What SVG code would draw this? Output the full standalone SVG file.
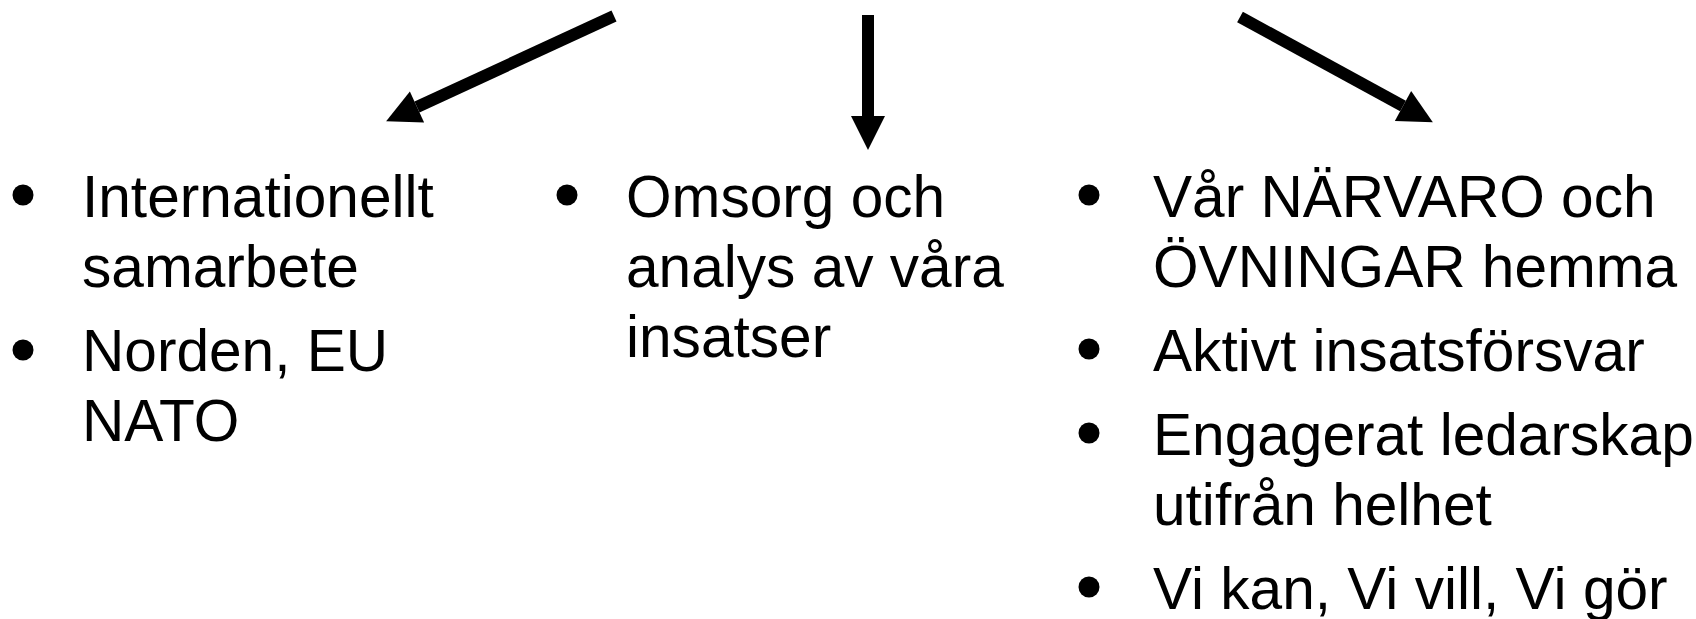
<svg xmlns="http://www.w3.org/2000/svg" width="1696" height="619" viewBox="0 0 1696 619">
<style>
.t{font-family:"Liberation Sans",Arial,sans-serif;font-size:58.6px;fill:#000}
.c{stroke:#000;stroke-width:12;fill:none}
</style>
<defs>
<marker id="ah" markerUnits="userSpaceOnUse" markerWidth="36" markerHeight="36" refX="0" refY="17" orient="auto" overflow="visible">
<path d="M0,0 L34,17 L0,34 z" fill="#000"/>
</marker>
</defs>
<rect width="1696" height="619" fill="#fff"/>
<g id="connectors">
<line class="c" x1="614" y1="16" x2="417" y2="107" marker-end="url(#ah)"/>
<line class="c" x1="868" y1="15" x2="868" y2="116" marker-end="url(#ah)"/>
<line class="c" x1="1240" y1="17" x2="1403" y2="106" marker-end="url(#ah)"/>
</g>
<g id="left">
<circle cx="23" cy="195" r="10.5"/>
<circle cx="23" cy="350" r="10.5"/>
<text class="t" x="82" y="217">Internationellt</text>
<text class="t" x="82" y="287">samarbete</text>
<text class="t" x="82" y="371">Norden, EU</text>
<text class="t" x="82" y="441">NATO</text>
</g>
<g id="middle">
<circle cx="567" cy="195" r="10.5"/>
<text class="t" x="626" y="217">Omsorg och</text>
<text class="t" x="626" y="287">analys av våra</text>
<text class="t" x="626" y="357">insatser</text>
</g>
<g id="right">
<circle cx="1089" cy="195" r="10.5"/>
<circle cx="1089" cy="349" r="10.5"/>
<circle cx="1089" cy="433" r="10.5"/>
<circle cx="1089" cy="587" r="10.5"/>
<text class="t" x="1153" y="217">Vår NÄRVARO och</text>
<text class="t" x="1153" y="287">ÖVNINGAR hemma</text>
<text class="t" x="1153" y="371">Aktivt insatsförsvar</text>
<text class="t" x="1153" y="455">Engagerat ledarskap</text>
<text class="t" x="1153" y="525">utifrån helhet</text>
<text class="t" x="1153" y="609">Vi kan, Vi vill, Vi gör</text>
</g>
</svg>
